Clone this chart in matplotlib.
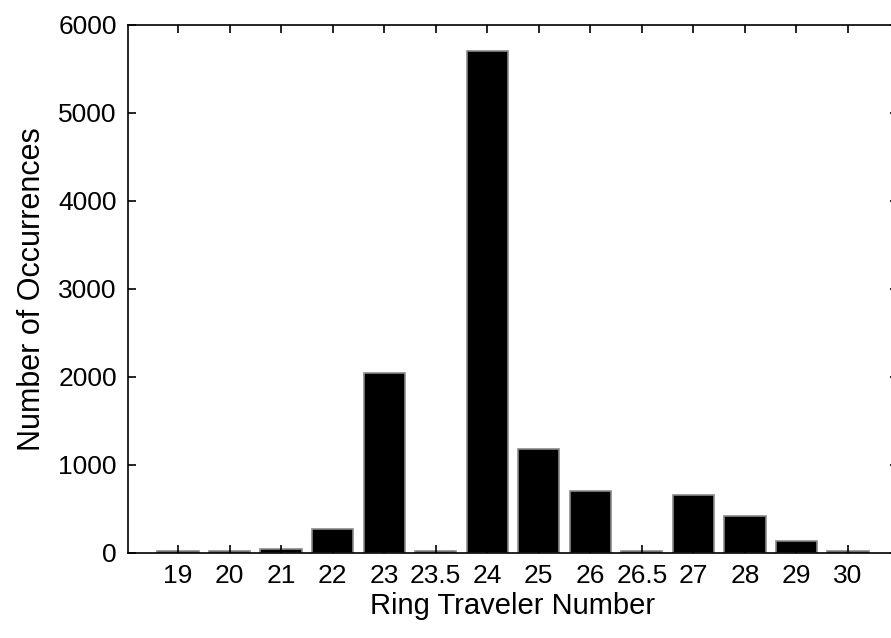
import matplotlib
matplotlib.use("Agg")
import matplotlib.pyplot as plt

# traveler numbers and how often each one occurred
travelers = ["19", "20", "21", "22", "23", "23.5", "24", "25", "26", "26.5", "27", "28", "29", "30"]
occurrences = [20, 20, 45, 275, 2050, 20, 5700, 1180, 705, 20, 660, 420, 136, 20]

plt.rcParams['font.family'] = ['Liberation Sans', 'DejaVu Sans']

fig = plt.figure(figsize=(8.91, 6.38), dpi=100)
ax = fig.add_axes([128 / 891, 85 / 638, 770 / 891, 528 / 638])

pos = list(range(len(travelers)))
ax.bar(pos, occurrences, width=0.8, color="black", edgecolor="#8a8a8a", linewidth=1.2)

ax.set_xlim(-0.97, len(travelers) - 1 + 0.97)
ax.set_ylim(0, 6000)
ax.set_yticks(range(0, 6001, 1000))
ax.set_xticks(pos)
ax.set_xticklabels(travelers)

ax.tick_params(direction="in", length=6, width=1.2, labelsize=19,
               top=True, right=True, pad=8)
for s in ax.spines.values():
    s.set_linewidth(1.2)

ax.set_xlabel("Ring Traveler Number", fontsize=21, labelpad=3)
ax.set_ylabel("Number of Occurrences", fontsize=22, labelpad=8)

fig.savefig("out.png", dpi=100)
